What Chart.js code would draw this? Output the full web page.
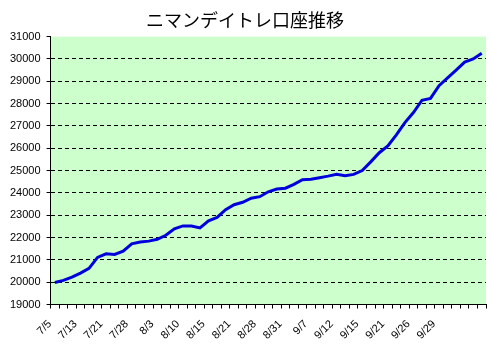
<!DOCTYPE html>
<html>
<head>
<meta charset="utf-8">
<script src="https://cdn.jsdelivr.net/npm/chart.js@4"></script>
<style>
  body { margin: 0; background: #fff; }
  #wrap { width: 491px; height: 352px; }
</style>
</head>
<body>
<div id="wrap"><canvas id="balanceChart"></canvas></div>
<script>
var dates = ['7/5', '7/7', '7/10', '7/13', '7/15', '7/18', '7/21', '7/24', '7/26', '7/28',
    '7/30', '8/1', '8/3', '8/5', '8/8', '8/10', '8/12', '8/14', '8/15', '8/17',
    '8/19', '8/21', '8/24', '8/26', '8/28', '8/29', '8/30', '8/31', '9/2', '9/5',
    '9/7', '9/8', '9/10', '9/12', '9/13', '9/14', '9/15', '9/18', '9/20', '9/21',
    '9/22', '9/25', '9/26', '9/27', '9/28', '9/29', '9/30', '10/1', '10/2', '10/3', '10/4'];
var balance = [19990, 20080, 20230, 20410, 20620, 21110, 21270, 21240, 21390, 21720,
    21800, 21840, 21920, 22100, 22390, 22520, 22520, 22430, 22750, 22900,
    23250, 23470, 23580, 23760, 23830, 24050, 24170, 24210, 24380, 24590,
    24610, 24680, 24750, 24830, 24770, 24830, 25000, 25390, 25800, 26100,
    26600, 27150, 27600, 28150, 28230, 28800, 29150, 29500, 29860, 30000, 30250];
var yMin = 19000, yMax = 31000, yStep = 1000;
var lastLabel = 45; // 9/29 is the last date written on the axis

// light green plot area like the old excel chart
var plotFill = {
    id: 'plotFill',
    beforeDraw: function(chart) {
        var a = chart.chartArea, ctx = chart.ctx;
        ctx.save();
        ctx.fillStyle = '#ccffcc';
        ctx.fillRect(a.left, a.top, a.right - a.left, a.bottom - a.top);
        ctx.restore();
    }
};

new Chart(document.getElementById('balanceChart').getContext('2d'), {
    type: 'line',
    data: {
        labels: dates,
        datasets: [{
            label: '口座残高',
            data: balance,
            borderColor: '#0000dd',
            borderWidth: 3,
            pointRadius: 0,
            fill: false,
            tension: 0
        }]
    },
    options: {
        responsive: true,
        maintainAspectRatio: false,
        animation: false,
        layout: { padding: { left: 4, right: 5, top: 0, bottom: 1 } },
        plugins: {
            legend: { display: false },
            tooltip: { enabled: false },
            title: {
                display: true,
                text: 'ニマンデイトレ口座推移',
                color: '#000',
                font: { family: '"Noto Sans CJK JP", sans-serif', size: 18, weight: 'normal' },
                padding: { top: 9, bottom: 6 }
            }
        },
        scales: {
            x: {
                offset: true,
                border: { color: '#000', width: 1 },
                grid: { drawOnChartArea: false, color: '#000', tickLength: 4, offset: true },
                ticks: {
                    autoSkip: false,
                    maxRotation: 45,
                    minRotation: 45,
                    labelOffset: -5,
                    padding: 9,
                    color: '#000',
                    font: { family: '"Liberation Sans", Arial, sans-serif', size: 11 },
                    callback: function(v, i) { return (i % 3 === 0 && i <= lastLabel) ? dates[i] : ''; }
                },
                afterFit: function(scale) { scale.paddingRight = 0; }
            },
            y: {
                min: yMin,
                max: yMax,
                border: { color: '#000', width: 1, dash: [4, 3] },
                grid: {
                    color: function(c) {
                        return (c.tick.value === yMax || c.tick.value === yMin) ? 'rgba(0,0,0,0)' : '#000';
                    },
                    tickColor: '#000',
                    tickLength: 4,
                    tickBorderDash: []
                },
                ticks: {
                    stepSize: yStep,
                    padding: 6,
                    color: '#000',
                    font: { family: '"Liberation Sans", Arial, sans-serif', size: 11 },
                    callback: function(v) { return String(v); }
                }
            }
        }
    },
    plugins: [plotFill]
});
</script>
</body>
</html>
